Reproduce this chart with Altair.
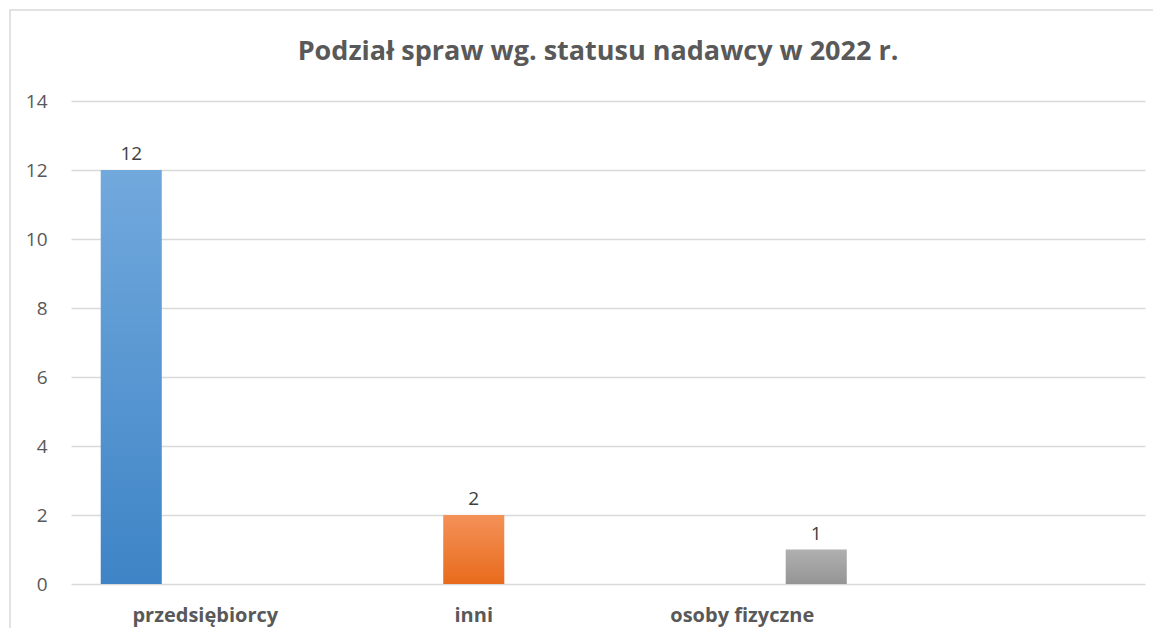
import altair as alt
import pandas as pd

categories = ["przedsiębiorcy", "inni", "osoby fizyczne"]
series = ["przedsiębiorcy", "inni", "osoby fizyczne"]
values = [12, 2, 1]
x_domain = ["przedsiębiorcy", "inni", "osoby fizyczne", " "]
title_text = "Podział spraw wg. statusu nadawcy w 2022 r."

top_colors = ["#72A9DD", "#F49158", "#B0B0B0"]
bottom_colors = ["#3E84C6", "#E86B1C", "#959595"]

df = pd.DataFrame({"kategoria": categories, "seria": series, "liczba": values})

W, H = 1074, 483
FONT = "Open Sans"

x_enc = alt.X("kategoria:N", sort=x_domain,
              scale=alt.Scale(domain=x_domain, paddingInner=0.173, paddingOuter=0.0866),
              axis=alt.Axis(title=None, labelAngle=0, ticks=False, domain=False,
                            labelFontWeight="bold", labelFontSize=20, labelColor="#595959",
                            labelFont=FONT, labelPadding=21))
xo_enc = alt.XOffset("seria:N", sort=series,
                     scale=alt.Scale(domain=series, paddingInner=0.175, paddingOuter=0.0875))
y_enc = alt.Y("liczba:Q", scale=alt.Scale(domain=[0, 14]),
              axis=alt.Axis(title=None, values=list(range(0, 15, 2)), tickCount=8,
                            ticks=False, domain=False, gridColor="#D9D9D9", gridWidth=1.3,
                            labelFontSize=19, labelColor="#595959", labelFont=FONT,
                            labelPadding=24))

base = alt.Chart(df)

layers = []
for i, s in enumerate(series):
    grad = alt.Gradient(gradient="linear",
                        stops=[alt.GradientStop(color=top_colors[i], offset=0),
                               alt.GradientStop(color=bottom_colors[i], offset=1)],
                        x1=0, x2=0, y1=0, y2=1)
    layers.append(
        base.transform_filter(alt.datum.seria == s)
        .mark_bar(color=grad)
        .encode(x=x_enc, xOffset=xo_enc, y=y_enc)
    )

labels = base.mark_text(dy=-16, fontSize=19, color="#404040", font=FONT).encode(
    x=alt.X("kategoria:N", sort=x_domain, scale=alt.Scale(domain=x_domain)),
    xOffset=alt.XOffset("seria:N", sort=series, scale=alt.Scale(domain=series)),
    y=alt.Y("liczba:Q"),
    text=alt.Text("liczba:Q"),
)

one = pd.DataFrame({"t": [title_text]})
border = alt.Chart(one).mark_rect(
    fill=None, stroke="#D9D9D9", strokeWidth=1.5
).encode(x=alt.value(-61), x2=alt.value(W + 60), y=alt.value(-91), y2=alt.value(H + 100))

title = alt.Chart(one).mark_text(
    fontSize=27, font=FONT, fontWeight="bold", color="#595959", baseline="middle", align="center"
).encode(x=alt.value(527), y=alt.value(-49), text="t:N")

chart = alt.layer(border, title, *layers, labels).properties(
    width=W, height=H,
    autosize=alt.AutoSizeParams(type="none"),
    padding={"left": 63, "top": 93, "right": 8, "bottom": 44},
).configure(background="white").configure_view(strokeWidth=0, stroke="transparent")

chart.save("out.html", embed_options={"renderer": "svg", "actions": False})
